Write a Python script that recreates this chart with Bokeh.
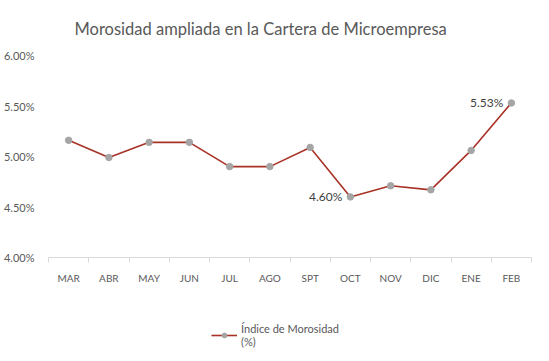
from bokeh.plotting import figure
from bokeh.layouts import column
from bokeh.models import (Range1d, FixedTicker, PrintfTickFormatter, Legend, LegendItem,
                          ColumnDataSource, Title)
from bokeh.core.properties import value
from bokeh.embed import file_html
from bokeh.resources import INLINE

months = ["MAR", "ABR", "MAY", "JUN", "JUL", "AGO", "SPT", "OCT", "NOV", "DIC", "ENE", "FEB"]
morosidad = [5.16, 4.99, 5.14, 5.14, 4.90, 4.90, 5.09, 4.60, 4.71, 4.67, 5.06, 5.53]
y_ticks = [4.0, 4.5, 5.0, 5.5, 6.0]
labeled_months = ["OCT", "FEB"]
series_name = "Índice de Morosidad\n(%)"
title_text = "Morosidad ampliada en la Cartera de Microempresa"

FONT = "Lato"
GRAY = "#595959"
LINE_COLOR = "#A93226"
MARKER_COLOR = "#A5A5A5"

xs = [i + 1 for i in range(len(months))]
src = ColumnDataSource(dict(x=xs, y=morosidad))

p = figure(width=533, height=285, frame_width=483, frame_height=202,
           output_backend="svg", toolbar_location=None,
           x_range=Range1d(0.5, len(months) + 0.5), y_range=Range1d(4.0, 6.0),
           min_border_left=41, min_border_right=9, min_border_bottom=36, min_border_top=47)
p.outline_line_color = None
p.background_fill_color = "white"
p.border_fill_color = "white"
p.xgrid.visible = False
p.ygrid.visible = False

t = Title(text=title_text, align="left", offset=26, text_font=FONT,
          text_font_size="16.5px", text_font_style="normal", text_color=GRAY, standoff=33)
p.add_layout(t, "above")

# x axis
p.xaxis.ticker = FixedTicker(ticks=xs, minor_ticks=[x - 0.5 for x in xs] + [xs[-1] + 0.5])
p.xaxis.major_label_overrides = {x: m for x, m in zip(xs, months)}
p.xaxis.major_tick_line_color = None
p.xaxis.minor_tick_line_color = "#D9D9D9"
p.xaxis.minor_tick_in = 0
p.xaxis.minor_tick_out = 5
p.xaxis.axis_line_color = "#D9D9D9"
p.xaxis.major_label_text_font = FONT
p.xaxis.major_label_text_font_size = "10px"
p.xaxis.major_label_text_color = GRAY
p.xaxis.major_label_standoff = 8

# y axis
p.yaxis.ticker = FixedTicker(ticks=y_ticks)
p.yaxis.formatter = PrintfTickFormatter(format="%.2f%%")
p.yaxis.axis_line_color = None
p.yaxis.major_tick_line_color = None
p.yaxis.minor_tick_line_color = None
p.yaxis.major_label_text_font = FONT
p.yaxis.major_label_text_font_size = "11px"
p.yaxis.major_label_text_color = GRAY
p.yaxis.major_label_standoff = 8

p.line("x", "y", source=src, line_color=LINE_COLOR, line_width=1.6)
p.scatter("x", "y", source=src, size=6.5, fill_color=MARKER_COLOR, line_color=MARKER_COLOR)

lab_x = [xs[months.index(m)] for m in labeled_months]
lab_y = [morosidad[months.index(m)] for m in labeled_months]
lab_t = ["%.2f%%" % v for v in lab_y]
p.text(x=lab_x, y=lab_y, text=lab_t, text_align="right", text_baseline="middle",
       x_offset=-8, text_font=value(FONT), text_font_size="12px", text_color="#404040")

# legend strip below the chart (its renderers share the data but lie outside its view)
p2 = figure(width=533, height=60, output_backend="svg", toolbar_location=None,
            x_range=Range1d(0.5, len(months) + 0.5), y_range=Range1d(0, 1),
            min_border=0)
p2.axis.visible = False
p2.grid.visible = False
p2.outline_line_color = None
p2.border_fill_color = "white"
ln2 = p2.line("x", "y", source=src, line_color=LINE_COLOR, line_width=1.6)
mk2 = p2.scatter("x", "y", source=src, size=6.5, fill_color=MARKER_COLOR, line_color=MARKER_COLOR)
legend = Legend(items=[LegendItem(label=series_name, renderers=[ln2, mk2])],
                location=(163, 5), orientation="horizontal",
                border_line_color=None, background_fill_alpha=0,
                label_text_font=FONT, label_text_font_size="11px", label_text_color=GRAY,
                glyph_width=26, glyph_height=12, padding=0, margin=0, label_standoff=4)
p2.add_layout(legend, "center")

layout = column(p, p2, spacing=0)
open("out.html", "w").write(file_html(layout, INLINE))
